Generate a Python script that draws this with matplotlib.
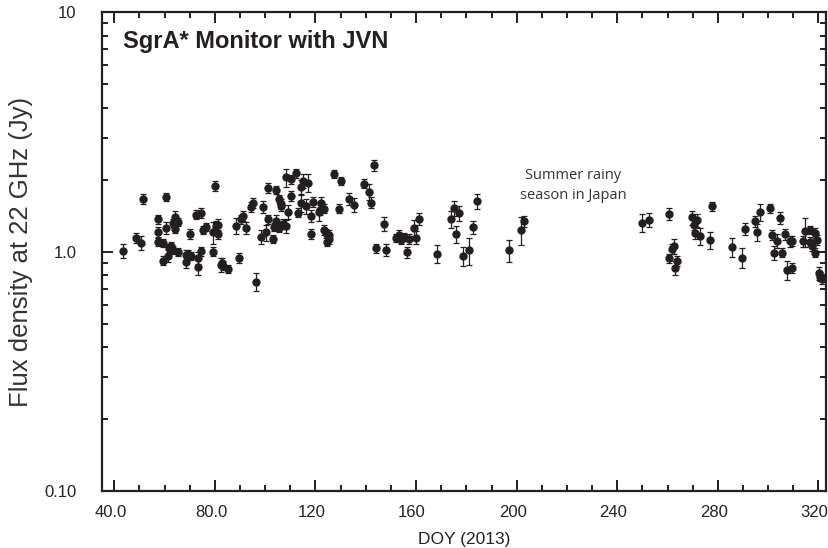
import matplotlib
matplotlib.use("Agg")
import matplotlib.pyplot as plt
import matplotlib.transforms as mtransforms
from matplotlib.ticker import FixedLocator, MultipleLocator, LogLocator, NullFormatter
import numpy as np

doy = [43.3, 48.5, 50.5, 51.4, 57.5, 57.5, 57.5, 59.4, 59.4, 60.4, 60.4, 61.4, 61.8, 62.4, 63.5, 65.2,
       63.2, 64.3, 65.2, 64.3, 70.1, 68.4, 68.4, 69.4, 70.4, 73.2, 73.2, 72.5, 74.3, 74.3, 75.4, 76.3,
       79.3, 79.3, 80.2, 80.4, 81.3, 81.3, 82.3, 82.8, 83.4, 85.2, 88.3, 89.5, 90.3, 91.3, 92.2, 94.2,
       95.3, 96.2, 98.3, 99.3, 100.3, 101.3, 101.3,
       103.3, 103.4, 104.2, 104.2, 105.3, 105.3, 106.2, 106.4, 107.2, 108.3, 108.3, 109.2, 110.2, 110.2,
       112.3, 113.2, 114.3, 114.3, 115.2, 116.3, 117.2, 118.1, 118.1, 119.2, 121.3, 121.8, 122.2, 123.2,
       123.2, 124.0, 125.2, 124.5, 125.2, 127.3, 129.3, 130.1, 133.2, 135.2, 139.1, 141.2, 142.1, 143.2,
       144.1, 147.2, 148.1, 152.1, 153.1, 154.2, 155.2, 156.2, 157.1, 159.1, 160.0, 161.2, 168.2,
       173.8, 174.9, 175.9, 177.0, 178.8, 180.9, 182.8, 184.1, 196.9, 201.9, 203.0,
       249.8, 252.7, 260.6, 260.6, 261.7, 262.6, 263.7, 262.8, 269.7, 270.6, 271.6, 270.9, 272.7, 276.7,
       277.7, 285.7, 289.7, 290.6, 294.6, 295.5, 296.6, 300.7, 301.7, 302.5, 303.7, 304.8, 305.6, 306.5,
       307.4, 308.8, 309.6, 309.6, 313.7, 314.5, 316.5, 316.5, 317.5, 318.6, 318.6, 319.6, 320.4, 320.7,
       321.4]

flux = [1.010, 1.145, 1.087, 1.666, 1.366, 1.212, 1.102, 1.091, 0.918, 1.693, 1.260, 0.960, 1.033, 1.060, 1.013, 0.997,
        1.323, 1.401, 1.331, 1.244, 1.186, 0.969, 0.909, 0.978, 0.960, 0.944, 0.863, 1.428, 1.447, 1.004, 1.232, 1.264,
        1.000, 1.205, 1.882, 1.281, 1.297, 1.182, 0.883, 0.900, 0.874, 0.849, 1.285, 0.944, 1.366, 1.410, 1.260, 1.538,
        1.593, 0.750, 1.156, 1.543, 1.205, 1.366, 1.846,
        1.126, 1.273, 1.805, 1.348, 1.655, 1.260, 1.583, 1.553, 1.306, 1.281, 2.046, 1.470, 2.007, 1.709,
        2.126, 1.456, 1.858, 1.603, 1.981, 1.553, 1.943, 1.410, 1.182, 1.618, 1.465, 1.494, 1.603, 1.513,
        1.232, 1.193, 1.174, 1.102, 1.126, 2.112, 1.513, 1.981, 1.661, 1.573, 1.924, 1.782, 1.603, 2.300,
        1.036, 1.306, 1.016, 1.137, 1.171, 1.119, 1.156, 0.994, 1.130, 1.256, 1.145, 1.366, 0.981,
        1.366, 1.518, 1.182, 1.451, 0.960, 1.013, 1.264, 1.623, 1.013, 1.232, 1.339,
        1.318, 1.361, 1.437, 0.938, 1.026, 1.056, 0.915, 0.855, 1.392, 1.293, 1.357, 1.201, 1.163, 1.119,
        1.548, 1.046, 0.944, 1.244, 1.339, 1.205, 1.460, 1.518, 1.171, 0.991, 1.112, 1.383, 0.991, 1.182,
        0.839, 1.105, 1.108, 0.852, 1.108, 1.216, 1.232, 1.102, 1.056, 1.197, 0.991, 1.119, 0.812, 0.786,
        0.769]

flux_err = [0.065, 0.055, 0.073, 0.080, 0.061, 0.058, 0.042, 0.042, 0.041, 0.070, 0.077, 0.058, 0.040, 0.041, 0.039, 0.038,
            0.051, 0.072, 0.051, 0.048, 0.053, 0.043, 0.058, 0.038, 0.037, 0.054, 0.064, 0.064, 0.069, 0.045, 0.047, 0.049,
            0.045, 0.131, 0.096, 0.057, 0.071, 0.053, 0.057, 0.040, 0.039, 0.033, 0.099, 0.048, 0.061, 0.063, 0.069, 0.074,
            0.076, 0.065, 0.074, 0.089, 0.093, 0.061, 0.083,
            0.043, 0.049, 0.069, 0.069, 0.064, 0.048, 0.071, 0.070, 0.059, 0.082, 0.177, 0.103, 0.083, 0.077,
            0.095, 0.065, 0.131, 0.139, 0.139, 0.109, 0.168, 0.077, 0.057, 0.078, 0.127, 0.067, 0.097, 0.068,
            0.055, 0.053, 0.053, 0.049, 0.050, 0.081, 0.068, 0.076, 0.101, 0.106, 0.080, 0.137, 0.087, 0.125,
            0.046, 0.088, 0.059, 0.044, 0.064, 0.043, 0.044, 0.054, 0.058, 0.096, 0.073, 0.079, 0.085,
            0.109, 0.112, 0.095, 0.107, 0.089, 0.130, 0.077, 0.114, 0.104, 0.170, 0.069,
            0.114, 0.091, 0.083, 0.042, 0.046, 0.074, 0.041, 0.055, 0.094, 0.058, 0.083, 0.073, 0.093, 0.093,
            0.069, 0.100, 0.088, 0.072, 0.069, 0.100, 0.117, 0.068, 0.056, 0.070, 0.071, 0.080, 0.044, 0.064,
            0.078, 0.057, 0.050, 0.041, 0.057, 0.171, 0.047, 0.049, 0.047, 0.054, 0.044, 0.050, 0.052, 0.035,
            0.034]

x_ticks = [40, 80, 120, 160, 200, 240, 280, 320]
x_tick_labels = ["40.0", "80.0", "120", "160", "200", "240", "280", "320"]
y_ticks = [0.1, 1.0, 10.0]
y_tick_labels = ["0.10", "1.0", "10"]

title_text = "SgrA* Monitor with JVN"
note_text = "Summer rainy\nseason in Japan"

DARK = "#231f20"
SANS = ['Liberation Sans', 'DejaVu Sans']

fig = plt.figure(figsize=(8.29, 5.48), dpi=100)
ax = fig.add_axes([0.1227, 0.104, 0.8737, 0.8734])

ax.errorbar(doy, flux, yerr=flux_err, fmt='o', color=DARK, ecolor=DARK,
            markersize=5, elinewidth=0.9, capsize=2.4, capthick=0.9, zorder=3)

ax.set_yscale('log')
ax.set_xlim(35, 323)
ax.set_ylim(0.1, 10)

ax.xaxis.set_major_locator(FixedLocator(x_ticks))
ax.set_xticklabels(x_tick_labels)
ax.xaxis.set_minor_locator(MultipleLocator(10))
ax.yaxis.set_major_locator(FixedLocator(y_ticks))
ax.set_yticklabels(y_tick_labels)
ax.yaxis.set_minor_locator(LogLocator(base=10, subs=np.arange(2, 10)))
ax.yaxis.set_minor_formatter(NullFormatter())

ax.tick_params(which='both', direction='in', top=True, right=True, color=DARK, width=1.4)
ax.tick_params(which='major', length=8)
ax.tick_params(which='minor', length=4.5)
ax.tick_params(axis='x', which='major', pad=10)
ax.tick_params(axis='y', which='major', pad=18)
ax.tick_params(axis='y', which='minor', left=True, right=True)

for lab in ax.get_xticklabels() + ax.get_yticklabels():
    lab.set_family(SANS)
    lab.set_fontsize(12)
    lab.set_color("#222222")

shift = mtransforms.ScaledTranslation(-4 / 100, 0, fig.dpi_scale_trans)
for lab in ax.get_xticklabels():
    lab.set_transform(lab.get_transform() + shift)

for s in ax.spines.values():
    s.set_linewidth(1.6)
    s.set_color(DARK)

ax.set_xlabel("DOY (2013)", family=SANS, fontsize=12.5, color="#222222", labelpad=9)
ax.set_ylabel("Flux density at 22 GHz (Jy)", family=SANS,
              fontsize=18.5, color="#333333")
ax.yaxis.set_label_coords(-0.095, 0.5)

ax.text(0.029, 0.94, title_text, transform=ax.transAxes, ha='left', va='center',
        family=SANS, fontweight='bold', fontsize=17, color=DARK)
ax.text(222.5, 1.89, note_text, ha='center', va='center', family=['Open Sans', 'DejaVu Sans'],
        fontsize=10.5, color="#333333", linespacing=1.5)

fig.savefig("out.png", dpi=100)
